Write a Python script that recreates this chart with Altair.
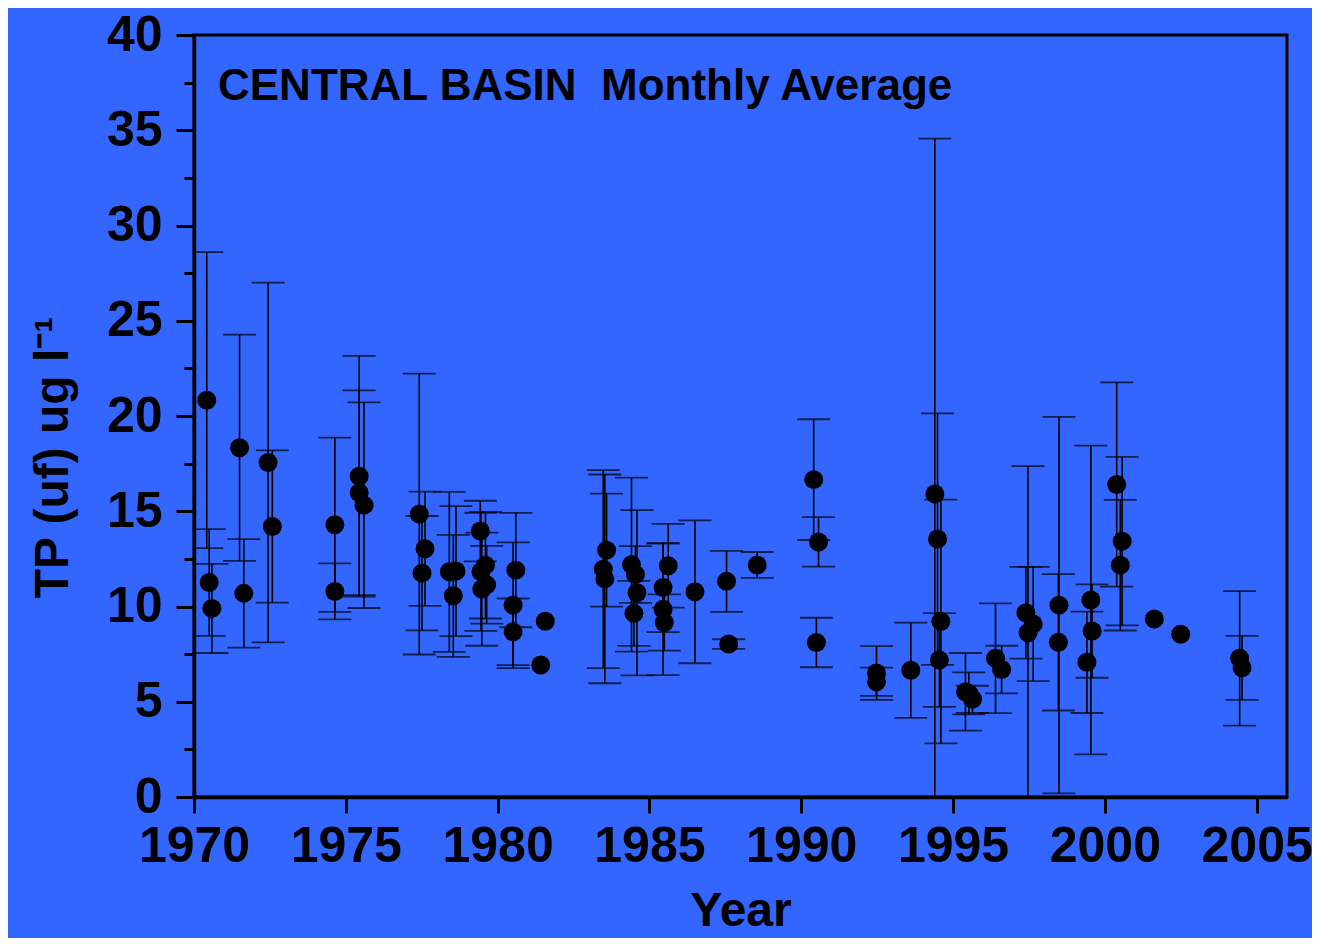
import altair as alt
import pandas as pd

# ---- data ----
years = [1970.42, 1970.50, 1970.59, 1971.50, 1971.64, 1972.44, 1972.58,
         1974.64, 1974.64, 1975.44, 1975.44, 1975.60,
         1977.42, 1977.61, 1977.51, 1978.41, 1978.63, 1978.54,
         1979.43, 1979.60, 1979.45, 1979.64, 1979.48,
         1980.60, 1980.51, 1980.51, 1981.57, 1981.42,
         1983.59, 1983.48, 1983.53, 1984.41, 1984.54, 1984.59, 1984.49,
         1985.62, 1985.45, 1985.45, 1985.49, 1986.50,
         1987.54, 1987.61, 1988.55,
         1990.41, 1990.57, 1990.50, 1992.48, 1992.48, 1993.61,
         1994.40, 1994.49, 1994.60, 1994.55,
         1995.41, 1995.52, 1995.64, 1996.40, 1996.60,
         1997.40, 1997.64, 1997.47, 1998.49, 1998.47,
         1999.54, 1999.58, 1999.41, 2000.39, 2000.57, 2000.51,
         2001.63, 2002.50, 2004.44, 2004.52]
tp_values = [20.83, 11.26, 9.90, 18.33, 10.69, 17.56, 14.20,
             14.29, 10.79, 16.84, 15.97, 15.32,
             14.85, 13.03, 11.75, 11.82, 11.86, 10.56,
             13.96, 12.17, 11.82, 11.14, 10.91,
             11.91, 10.07, 8.67, 9.23, 6.93,
             12.96, 11.96, 11.45, 12.20, 11.68, 10.72, 9.64,
             12.14, 11.00, 9.85, 9.16, 10.77,
             11.32, 8.03, 12.18,
             16.66, 13.39, 8.11, 6.51, 6.05, 6.65,
             15.91, 13.54, 9.21, 7.19,
             5.52, 5.44, 5.13, 7.28, 6.69,
             9.67, 9.08, 8.62, 10.07, 8.12,
             10.34, 8.71, 7.07, 16.40, 13.43, 12.17,
             9.34, 8.54, 7.28, 6.78]
tp_errors = [7.77, 2.80, 2.34, 5.94, 2.85, 9.44, 4.00,
             4.57, 1.47, 6.32, 5.37, 5.40,
             7.37, 3.00, 3.00, 4.20, 3.41, 3.20,
             1.59, 2.80, 3.10, 2.04, 2.97,
             3.00, 3.30, 1.75, 0.0, 0.0,
             2.97, 5.20, 5.48, 4.57, 1.49, 4.34, 1.71,
             2.20, 2.34, 3.45, 1.48, 3.75,
             1.60, 0.25, 0.68,
             3.17, 1.30, 1.30, 1.41, 0.74, 2.50,
             18.65, 6.60, 6.40, 2.46,
             2.04, 1.10, 0.71, 2.88, 1.25,
             2.41, 3.00, 8.75, 9.88, 3.58,
             8.10, 2.45, 2.66, 5.36, 4.42, 3.43,
             0.0, 0.0, 3.53, 1.68]

x_ticks = [1970, 1975, 1980, 1985, 1990, 1995, 2000, 2005]
y_ticks = [0, 2.5, 5, 7.5, 10, 12.5, 15, 17.5, 20, 22.5, 25, 27.5, 30, 32.5, 35, 37.5, 40]
panel_title = "CENTRAL BASIN\u00a0\u00a0Monthly Average"
x_title = "Year"
y_title = "TP (uf) ug l\u207b\u00b9"

df = pd.DataFrame({"year": years, "tp": tp_values, "err": tp_errors})
df["lo"] = df["tp"] - df["err"]
df["hi"] = df["tp"] + df["err"]
bars = df[df["err"] > 0]

FONT = "Liberation Sans"

x_axis = alt.Axis(values=x_ticks, format="d", title=x_title, tickSize=16,
                  labelPadding=8, labelFontSize=50, titleFontSize=48,
                  labelOverlap=False, labelBound=False, labelFlush=False,
                  titleY=128, titleBaseline="alphabetic")
y_axis = alt.Axis(values=y_ticks, title=y_title,
                  labelExpr="datum.value % 5 === 0 ? datum.label : ''",
                  tickSize={"condition": {"test": "datum.value % 5 === 0", "value": 18}, "value": 10},
                  labelPadding=14, labelFontSize=50, titleFontSize=48,
                  labelOverlap=False, labelBound=False, labelFlush=False,
                  titleAngle=-90, titleX=-127, titleY=422, titleAlign="center",
                  titleBaseline="alphabetic")

xs = alt.Scale(domain=[1970, 2006], nice=False, zero=False)
ys = alt.Scale(domain=[0, 40], nice=False, zero=False)

X = alt.X("year:Q", scale=xs, axis=x_axis)

rules = alt.Chart(bars).mark_rule(color="black", strokeWidth=1.6, clip=True).encode(
    x=X, y=alt.Y("lo:Q", scale=ys, axis=y_axis), y2="hi:Q")
cap_hi = alt.Chart(bars).mark_tick(color="black", thickness=1.8, size=33,
                                   orient="horizontal", clip=True).encode(
    x=X, y=alt.Y("hi:Q", scale=ys, axis=y_axis))
cap_lo = alt.Chart(bars).mark_tick(color="black", thickness=1.8, size=33,
                                   orient="horizontal", clip=True).encode(
    x=X, y=alt.Y("lo:Q", scale=ys, axis=y_axis))
points = alt.Chart(df).mark_point(filled=True, shape="circle", size=360,
                                  color="black", opacity=1).encode(
    x=X, y=alt.Y("tp:Q", scale=ys, axis=y_axis))
label = alt.Chart(pd.DataFrame({"t": [panel_title]})).mark_text(
    align="left", baseline="alphabetic", font=FONT, fontWeight="bold",
    fontSize=44, color="black").encode(
    x=alt.value(24), y=alt.value(65), text="t:N")

chart = alt.layer(rules, cap_hi, cap_lo, points, label).properties(
    width=1093, height=762,
    autosize=alt.AutoSizeParams(type="none"),
    padding={"left": 186, "top": 27, "right": 25, "bottom": 141},
    background="#3366FF",
).configure_view(stroke="black", strokeWidth=3).configure_axis(
    domainColor="black", domainWidth=3.5, tickColor="black", tickWidth=3,
    labelColor="black", labelFont=FONT, labelFontWeight="bold",
    titleColor="black", titleFont=FONT, titleFontWeight="bold", grid=False,
)

chart.save("out.html", embed_options={"renderer": "svg", "actions": False})
